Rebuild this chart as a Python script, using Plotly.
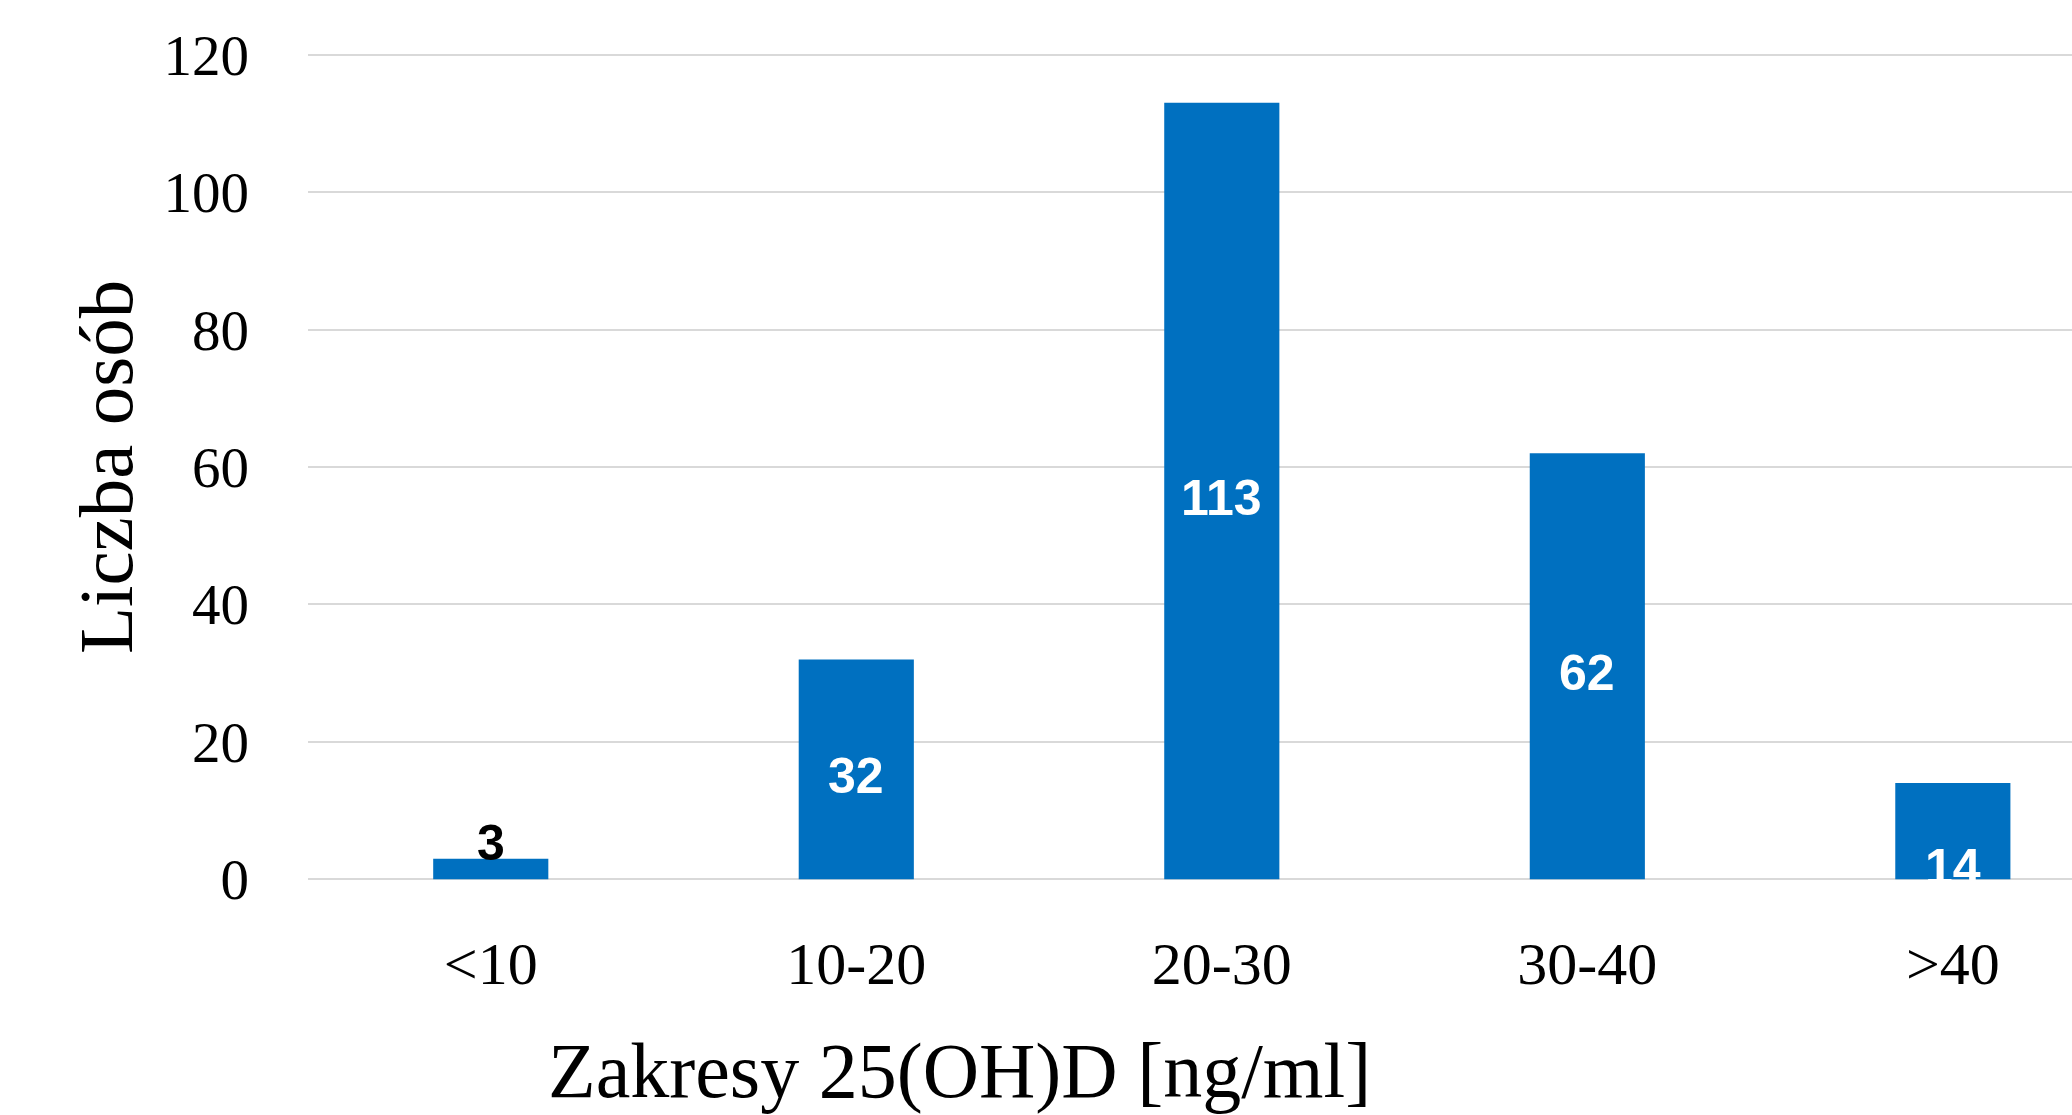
import plotly.graph_objects as go

categories = ["<10", "10-20", "20-30", "30-40", ">40"]
counts = [3, 32, 113, 62, 14]
y_ticks = [0, 20, 40, 60, 80, 100, 120]
x_title = "Zakresy 25(OH)D [ng/ml]"
y_title = "Liczba osób"

BAR = "#0070C0"
SERIF = "Liberation Serif, Times New Roman, serif"
SANS = "Liberation Sans, Arial, sans-serif"

fig = go.Figure()
fig.add_trace(go.Bar(
    x=categories, y=counts, marker=dict(color=BAR, line=dict(width=0)),
    width=0.315, hoverinfo="skip",
))

for cat, v in zip(categories, counts):
    txt = "<b>%d</b>" % v
    if v < 5:
        fig.add_annotation(x=cat, y=v, yanchor="bottom", text=txt, showarrow=False,
                           font=dict(family=SANS, size=50, color="black"), yshift=-14)
    elif v < 20:
        fig.add_annotation(x=cat, y=0, yanchor="middle", text=txt, showarrow=False,
                           font=dict(family=SANS, size=50, color="white"), yshift=12)
    else:
        fig.add_annotation(x=cat, y=v / 2, yanchor="middle", text=txt, showarrow=False,
                           font=dict(family=SANS, size=50, color="white"), yshift=-7)

fig.add_annotation(xref="paper", yref="paper", x=0.3696, y=-0.229, text=x_title,
                   showarrow=False, xanchor="center", yanchor="middle",
                   font=dict(family=SERIF, size=78, color="black"))
fig.add_annotation(xref="paper", yref="paper", x=-0.1145, y=0.5, text=y_title,
                   showarrow=False, textangle=-90, xanchor="center", yanchor="middle",
                   font=dict(family=SERIF, size=77, color="black"))

fig.update_layout(
    width=2072, height=1115,
    margin=dict(l=308, r=0, t=53, b=234),
    paper_bgcolor="white", plot_bgcolor="white",
    showlegend=False,
    xaxis=dict(type="category", range=[-0.5, 4.326], showgrid=False, zeroline=False,
               showline=False, ticks="", ticklabelstandoff=42,
               tickfont=dict(family=SERIF, size=60, color="black")),
    yaxis=dict(range=[-0.25, 120.25], tickvals=y_ticks, showgrid=True, gridcolor="#D9D9D9",
               gridwidth=2, zeroline=False, showline=False, ticks="",
               ticklabelstandoff=58,
               tickfont=dict(family=SERIF, size=57, color="black")),
)

fig.write_html("out.html", config={"displayModeBar": False, "staticPlot": True},
               post_script="document.body.style.margin='0';document.body.style.overflow='hidden';")
